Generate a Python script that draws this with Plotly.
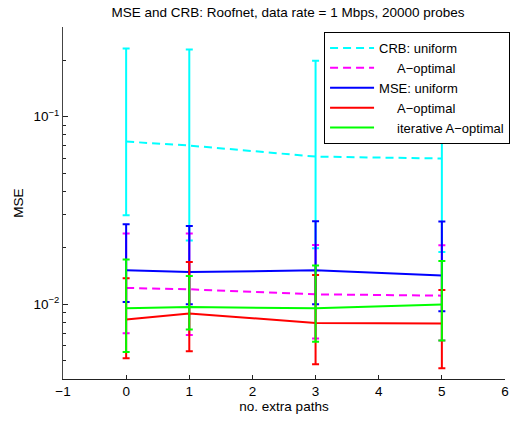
import plotly.graph_objects as go

x = [0, 1, 3, 5]

crb_uniform = [0.0736, 0.0701, 0.0612, 0.0598]
crb_uniform_hi = [0.2306, 0.2278, 0.1985, 0.1950]
crb_uniform_lo = [0.0298, 0.0219, 0.0199, 0.0190]

crb_aopt = [0.01222, 0.01202, 0.01130, 0.01112]
crb_aopt_hi = [0.0238, 0.0238, 0.0207, 0.0206]
crb_aopt_lo = [0.00702, 0.00687, 0.00657, 0.00641]

mse_uniform = [0.01517, 0.01485, 0.01517, 0.01425]
mse_uniform_hi = [0.0267, 0.0261, 0.0277, 0.0276]
mse_uniform_lo = [0.01029, 0.01000, 0.01000, 0.00918]

mse_aopt = [0.00830, 0.00892, 0.00796, 0.00789]
mse_aopt_hi = [0.01375, 0.0168, 0.01432, 0.0119]
mse_aopt_lo = [0.00516, 0.00562, 0.00480, 0.00457]

mse_iter = [0.00952, 0.00968, 0.00952, 0.00996]
mse_iter_hi = [0.0173, 0.01415, 0.01607, 0.01702]
mse_iter_lo = [0.00557, 0.00733, 0.00631, 0.00641]

NB = "\u00a0"
series = [
    ("CRB: uniform", crb_uniform, crb_uniform_hi, crb_uniform_lo, "#00ffff", "8px,5px"),
    (NB * 5 + "A\u2212optimal", crb_aopt, crb_aopt_hi, crb_aopt_lo, "#ff00ff", "8px,5px"),
    ("MSE: uniform", mse_uniform, mse_uniform_hi, mse_uniform_lo, "#0000ff", "solid"),
    (NB * 5 + "A\u2212optimal", mse_aopt, mse_aopt_hi, mse_aopt_lo, "#ff0000", "solid"),
    (NB * 5 + "iterative A\u2212optimal", mse_iter, mse_iter_hi, mse_iter_lo, "#00ff00", "solid"),
]

fig = go.Figure()
for name, y, hi, lo, col, dash in series:
    fig.add_trace(go.Scatter(
        x=x, y=y, mode="lines", name=name,
        line=dict(color=col, width=2, dash=dash),
        error_y=dict(type="data", symmetric=False,
                     array=[h - v for h, v in zip(hi, y)],
                     arrayminus=[v - l for v, l in zip(y, lo)],
                     color=col, thickness=2, width=3.5),
    ))

font = dict(family="Liberation Sans, Arial, Helvetica, sans-serif", size=13.5, color="black")

minor_vals = [m * 10 ** e for e in (-3, -2, -1) for m in range(2, 10)]
minor_vals = [v for v in minor_vals if 0.004 <= v <= 0.3]

fig.update_layout(
    width=517, height=421,
    margin=dict(l=63, r=7, t=27, b=42),
    paper_bgcolor="white", plot_bgcolor="white",
    font=font,
    showlegend=True,
    title=dict(text="MSE and CRB: Roofnet, data rate = 1 Mbps, 20000 probes",
               x=288 / 517, xanchor="center", y=1 - 12 / 421, yanchor="middle",
               font=dict(size=13.5)),
    legend=dict(x=(327 - 63) / 447, xanchor="left", y=1 - (32 - 27) / 352, yanchor="top",
                bgcolor="white", bordercolor="black", borderwidth=1,
                font=dict(size=13), tracegroupgap=0, itemwidth=44),
    xaxis=dict(range=[-1, 6], tickvals=[-1, 0, 1, 2, 3, 4, 5, 6],
               ticktext=["\u22121", "0", "1", "2", "3", "4", "5", "6"],
               ticks="inside", ticklen=4, tickcolor="#222",
               showline=True, linecolor="#222", linewidth=1,
               showgrid=False, zeroline=False, mirror=False,
               title=dict(text="no. extra paths", standoff=2, font=dict(size=13.5))),
    yaxis=dict(type="log", range=[-2.39794, -0.522879],
               tickvals=[0.01, 0.1], ticktext=["10<sup>\u22122</sup>", "10<sup>\u22121</sup>"],
               ticks="inside", ticklen=5, tickcolor="#222",
               minor=dict(tickvals=minor_vals, ticks="inside", ticklen=3, tickcolor="#222"),
               showline=True, linecolor="#444", linewidth=1,
               showgrid=False, zeroline=False, mirror=False,
               title=dict(text="MSE", standoff=6, font=dict(size=13.5))),
)

fig.write_html("out.html")
